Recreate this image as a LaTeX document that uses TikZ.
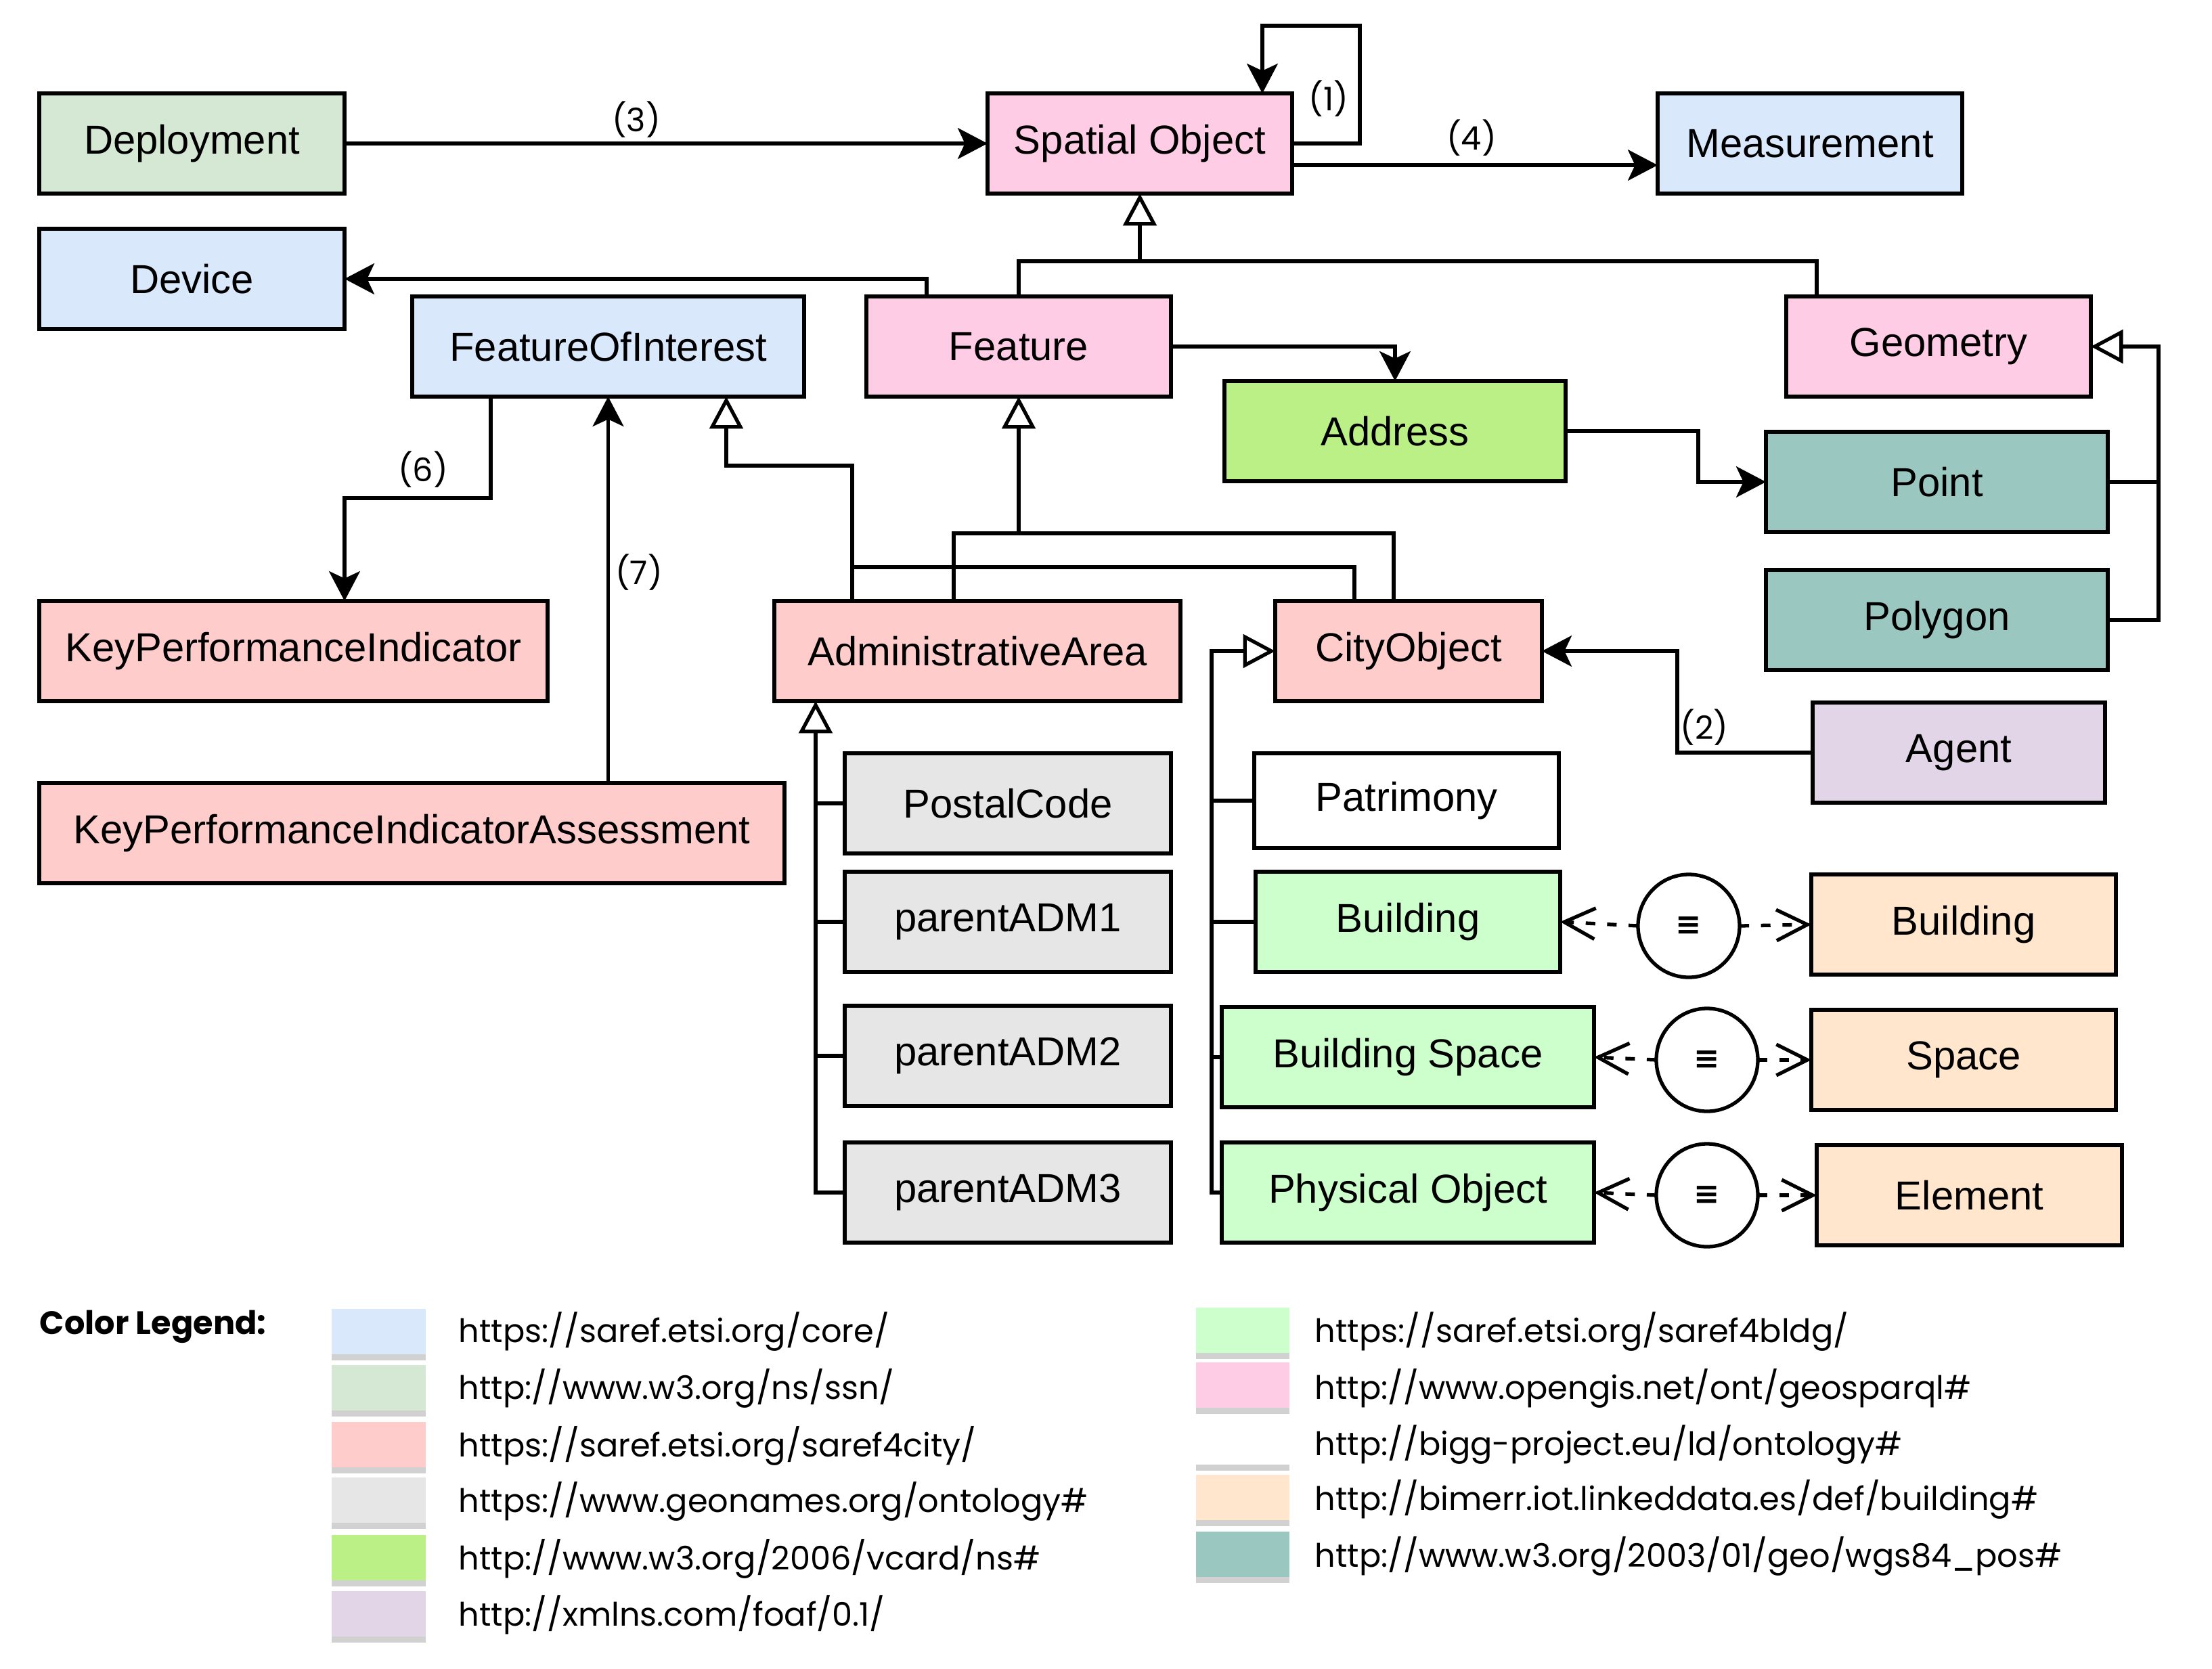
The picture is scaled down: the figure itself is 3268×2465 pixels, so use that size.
\documentclass[tikz,border=0pt]{standalone}
\usepackage{fontspec}
\setmainfont{Liberation Sans}
\newfontfamily\pop{Poppins}
\newfontfamily\dejav{DejaVu Sans}
\usetikzlibrary{arrows.meta,shapes.geometric}
\definecolor{cblue}{HTML}{DAE8FC}
\definecolor{cssn}{HTML}{D5E8D4}
\definecolor{ccity}{HTML}{FFCCCC}
\definecolor{cgeon}{HTML}{E6E6E6}
\definecolor{cvcard}{HTML}{BAF086}
\definecolor{cfoaf}{HTML}{E1D5E7}
\definecolor{cbldg}{HTML}{CCFFCC}
\definecolor{cpink}{HTML}{FFCCE6}
\definecolor{cbim}{HTML}{FFE6CC}
\definecolor{cteal}{HTML}{9AC7BF}
\newcommand\mybox[7]{\node[box,fill=#6,minimum width={(#4-#2)*0.01cm},minimum height={(#5-#3)*0.01cm}] (#1) at ({(#2+#4)/2},{(#3+#5)/2}) {#7};}
\newcommand\swatch[5]{\fill[black!18] (#1,#2+4) rectangle (#3,#4+9);\fill[#5] (#1,#2) rectangle (#3,#4);}
\tikzset{
  box/.style={draw,line width=1.5pt,rectangle,inner sep=0pt,outer sep=0pt,font=\fontsize{17}{20}\selectfont},
  conn/.style={line width=1.5pt},
  arr/.style={conn,-{Stealth[length=12.5pt,width=13pt,inset=3pt]}},
  inh/.style={conn,-{Triangle[length=13.5pt,width=14pt,fill=white,line width=1.5pt]}},
  eqa/.style={conn,dash pattern=on 4pt off 5pt,-{Straight Barb[length=13pt,width=13pt,line width=1.5pt]}},
  lbl/.style={font=\pop\fontsize{13.6}{16}\selectfont,inner sep=0pt},
  leg/.style={font=\pop\fontsize{13.6}{16}\selectfont,anchor=west,inner sep=0pt},
  eqnode/.style={draw,ellipse,line width=1.5pt,fill=white,minimum width=150*0.01cm,minimum height=152*0.01cm,inner sep=0pt,outer sep=0pt,font=\dejav\bfseries\fontsize{13}{15}\selectfont}
}
\begin{document}
\begin{tikzpicture}[x=0.01cm,y=-0.01cm]
\useasboundingbox (0,0) rectangle (3268,2465);
\fill[white] (0,0) rectangle (3268,2465);

\mybox{Deployment}{58}{138}{509}{286}{cssn}{Deployment}
\mybox{SO}{1459}{138}{1909}{286}{cpink}{Spatial Object}
\mybox{Measurement}{2449}{138}{2899}{286}{cblue}{Measurement}
\mybox{Device}{58}{338}{509}{486}{cblue}{Device}
\mybox{FOI}{609}{438}{1188}{586}{cblue}{FeatureOfInterest}
\mybox{Feature}{1280}{438}{1730}{586}{cpink}{Feature}
\mybox{Geometry}{2639}{438}{3089}{586}{cpink}{Geometry}
\mybox{Address}{1809}{563}{2313}{711}{cvcard}{Address}
\mybox{Point}{2609}{638}{3114}{786}{cteal}{Point}
\mybox{Polygon}{2609}{842}{3114}{990}{cteal}{Polygon}
\mybox{KPI}{58}{888}{809}{1036}{ccity}{KeyPerformanceIndicator}
\mybox{AA}{1144}{888}{1744}{1036}{ccity}{AdministrativeArea}
\mybox{CO}{1884}{888}{2278}{1036}{ccity}{CityObject}
\mybox{Agent}{2678}{1038}{3110}{1186}{cfoaf}{Agent}
\mybox{KPIA}{58}{1157}{1159}{1305}{ccity}{KeyPerformanceIndicatorAssessment}
\mybox{PostalCode}{1248}{1113}{1730}{1261}{cgeon}{PostalCode}
\mybox{ADMa}{1248}{1288}{1730}{1436}{cgeon}{parentADM1}
\mybox{ADMb}{1248}{1486}{1730}{1634}{cgeon}{parentADM2}
\mybox{ADMc}{1248}{1688}{1730}{1836}{cgeon}{parentADM3}
\mybox{Patrimony}{1853}{1113}{2303}{1253}{white}{Patrimony}
\mybox{Bldg}{1855}{1288}{2305}{1436}{cbldg}{Building}
\mybox{BSpace}{1805}{1488}{2355}{1636}{cbldg}{Building Space}
\mybox{PhysObj}{1805}{1688}{2355}{1836}{cbldg}{Physical Object}
\mybox{BldgB}{2676}{1292}{3126}{1440}{cbim}{Building}
\mybox{Space}{2676}{1492}{3126}{1640}{cbim}{Space}
\mybox{Element}{2684}{1692}{3135}{1840}{cbim}{Element}

\node[eqnode] (EqA) at (2495,1368) {≡};
\node[eqnode] (EqB) at (2522,1566) {≡};
\node[eqnode] (EqC) at (2522,1766) {≡};

% (3)
\draw[arr] (Deployment.east) -- (SO.west);
\node[lbl] (L3) at (940,177) {(3)};
% (1) self loop
\draw[arr] (SO.east) -| (2009,38) -| (1865,0 |- SO.north);
\node[lbl] (L1) at (1963,146) {(1)};
% (4)
\draw[arr] (SO.east |- 0,244) -- (Measurement.west |- 0,244);
\node[lbl] (L4) at (2174,204) {(4)};
% inheritance to Spatial Object
\draw[conn] (Feature.north) |- (2684,386) -- (2684,0 |- Geometry.north);
\draw[inh] (SO.south |- 0,386) -- (SO.south);
% Feature -> Device
\draw[arr] (1369,0 |- Feature.north) |- (Device.east);
% Feature -> Address
\draw[arr] (Feature.east) -| (Address.north);
% Address -> Point
\draw[arr] (Address.east) -| (2509,0 |- Point.west) -- (Point.west);
% Point, Polygon -> Geometry
\draw[conn] (Point.east) -- (3189,0 |- Point.east);
\draw[inh] (Polygon.east) -| (3189,0 |- Geometry.east) -- (Geometry.east);
% FOI -> KPI (6)
\draw[arr] (725,0 |- FOI.south) |- (509,736) -- (509,0 |- KPI.north);
\node[lbl] (L6) at (625,694) {(6)};
% KPIA -> FOI (7)
\draw[arr] (FOI.south |- KPIA.north) -- (FOI.south);
\node[lbl] (L7) at (944,846) {(7)};
% AA, CO -> FOI
\draw[inh] (1259,0 |- AA.north) |- (1073,688) -- (1073,0 |- FOI.south);
\draw[conn] (2001,0 |- CO.north) |- (1259,838);
% AA, CO -> Feature
\draw[inh] (1409,0 |- AA.north) |- (1505,788) -- (Feature.south);
\draw[conn] (2059,0 |- CO.north) |- (1505,788);
% Agent -> CO (2)
\draw[arr] (Agent.west) -| (2478,0 |- CO.east) -- (CO.east);
\node[lbl] (L2) at (2518,1075) {(2)};
% AA subclasses
\draw[inh] (ADMc.west) -| (1205,0 |- AA.south);
\draw[conn] (PostalCode.west) -- (1205,0 |- PostalCode.west);
\draw[conn] (ADMa.west) -- (1205,0 |- ADMa.west);
\draw[conn] (ADMb.west) -- (1205,0 |- ADMb.west);
% CO subclasses
\draw[inh] (PhysObj.west) -| (1790,0 |- CO.west) -- (CO.west);
\draw[conn] (Patrimony.west) -- (1790,0 |- Patrimony.west);
\draw[conn] (Bldg.west) -- (1790,0 |- Bldg.west);
\draw[conn] (BSpace.west) -- (1790,0 |- BSpace.west);
% equivalences
\draw[eqa] (EqA.west) -- (Bldg.east);
\draw[eqa] (EqA.east) -- (BldgB.west);
\draw[eqa] (EqB.west) -- (BSpace.east);
\draw[eqa] (EqB.east) -- (Space.west);
\draw[eqa] (EqC.west) -- (PhysObj.east);
\draw[eqa] (EqC.east) -- (Element.west);

% legend
\node[leg,font=\pop\bfseries\fontsize{13.6}{16}\selectfont] (LegT) at (58,1960) {Color Legend:};
\swatch{490}{1934}{629}{2001}{cblue}
\swatch{490}{2017}{629}{2084}{cssn}
\swatch{490}{2101}{629}{2168}{ccity}
\swatch{490}{2183}{629}{2250}{cgeon}
\swatch{490}{2268}{629}{2335}{cvcard}
\swatch{490}{2351}{629}{2418}{cfoaf}
\node[leg] (La) at (677,1967) {https://saref.etsi.org/core/};
\node[leg] (Lb) at (677,2051) {http://www.w3.org/ns/ssn/};
\node[leg] (Lc) at (677,2136) {https://saref.etsi.org/saref4city/};
\node[leg] (Ld) at (677,2218) {https://www.geonames.org/ontology\#};
\node[leg] (Le) at (677,2303) {http://www.w3.org/2006/vcard/ns\#};
\node[leg] (Lf) at (677,2386) {http://xmlns.com/foaf/0.1/};
\swatch{1767}{1932}{1905}{1999}{cbldg}
\swatch{1767}{2013}{1905}{2080}{cpink}
\swatch{1767}{2097}{1905}{2164}{white}
\swatch{1767}{2179}{1905}{2246}{cbim}
\swatch{1767}{2263}{1905}{2330}{cteal}
\node[leg] (Lg) at (1942,1967) {https://saref.etsi.org/saref4bldg/};
\node[leg] (Lh) at (1942,2051) {http://www.opengis.net/ont/geosparql\#};
\node[leg] (Li) at (1942,2134) {http://bigg-project.eu/ld/ontology\#};
\node[leg] (Lj) at (1942,2215) {http://bimerr.iot.linkeddata.es/def/building\#};
\node[leg] (Lk) at (1942,2299) {http://www.w3.org/2003/01/geo/wgs84\_pos\#};
\end{tikzpicture}
\end{document}
